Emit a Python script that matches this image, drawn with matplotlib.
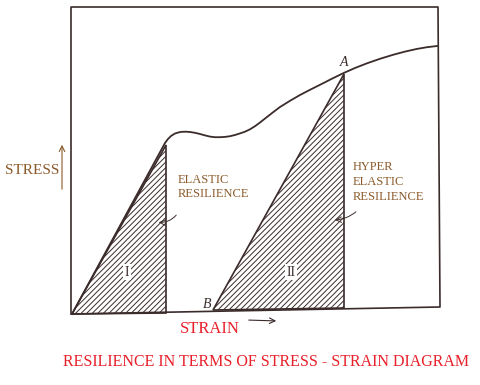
import matplotlib.pyplot as plt
import numpy as np

plt.rcParams['font.family'] = ['Liberation Serif', 'DejaVu Serif']
plt.rcParams['hatch.linewidth'] = 0.7

# diagram, in pixel units of the 480x385 image
curve_x = [72, 165, 168, 171, 175, 179, 182, 186, 190, 195, 200, 205, 210, 215, 220, 225, 230, 235,
           240, 245, 250, 255, 260, 267, 273, 280, 290, 300, 310, 320, 332, 343, 355, 367, 380,
           393, 405, 417, 427, 437]
curve_y = [314, 143, 139, 136, 133.5, 132.3, 131.8, 131.7, 132, 132.8, 134, 135.4, 136.6, 137.2, 137.2,
           136.9, 136.2, 135, 133.4, 131.7, 129.3, 126.2, 122.5, 117, 112.3, 107, 100.8, 95, 89.8, 84.8,
           78.7, 73.3, 68, 63.3, 58.8, 54.8, 51.6, 48.9, 47.2, 46]

region1_x = [72, 166, 166]
region1_y = [314, 145, 313]
region2_x = [213, 344, 344]
region2_y = [310, 74, 308]

frame_x = [71, 71, 438, 440, 72]
frame_y = [314, 7, 7, 307, 314]

ink = '#3b2b2b'
brown = '#8b5a2b'
red = '#e8202a'

fig = plt.figure(figsize=(4.8, 3.85), dpi=100)
ax = fig.add_axes([0, 0, 1, 1])
ax.set_xlim(0, 480)
ax.set_ylim(385, 0)
ax.axis('off')

ax.plot(frame_x, frame_y, color=ink, lw=1.2)
ax.plot(curve_x, curve_y, color=ink, lw=1.3, solid_joinstyle='round')

ax.fill(region1_x, region1_y, facecolor='none', edgecolor=ink, hatch='//////', lw=1.2)
ax.fill(region2_x, region2_y, facecolor='none', edgecolor=ink, hatch='//////', lw=1.2)

ax.text(127, 272, 'I', fontsize=10, color=ink, ha='center', va='center',
        bbox=dict(facecolor='white', edgecolor='none', pad=1))
ax.text(291, 272, 'II', fontsize=10, color=ink, ha='center', va='center',
        bbox=dict(facecolor='white', edgecolor='none', pad=1))
ax.text(207, 304, 'B', fontsize=10, color=ink, style='italic', ha='center', va='center')
ax.text(344, 62, 'A', fontsize=10, color=ink, style='italic', ha='center', va='center')

ax.text(5, 171, 'STRESS', fontsize=11, color=brown, ha='left', va='center')
ax.annotate('', xy=(62, 142), xytext=(62, 192),
            arrowprops=dict(arrowstyle='->', color=brown, lw=0.8))

ax.text(178, 187, 'ELASTIC\nRESILIENCE', fontsize=9, color=brown, ha='left', va='center', linespacing=1.3)
ax.annotate('', xy=(156, 222), xytext=(178, 213),
            arrowprops=dict(arrowstyle='->', color=ink, lw=0.7,
                            connectionstyle='arc3,rad=-0.3'))

ax.text(353, 182, 'HYPER\nELASTIC\nRESILIENCE', fontsize=9, color=brown, ha='left', va='center', linespacing=1.3)
ax.annotate('', xy=(332, 220), xytext=(358, 210),
            arrowprops=dict(arrowstyle='->', color=ink, lw=0.7,
                            connectionstyle='arc3,rad=-0.2'))

ax.text(210, 329, 'STRAIN', fontsize=12, color=red, ha='center', va='center')
ax.annotate('', xy=(279, 321), xytext=(246, 320),
            arrowprops=dict(arrowstyle='->', color=ink, lw=0.8))

ax.text(266, 362, 'RESILIENCE IN TERMS OF STRESS - STRAIN DIAGRAM', fontsize=11.5, color=red,
        ha='center', va='center')

fig.savefig('out.png', dpi=100, facecolor='white')
